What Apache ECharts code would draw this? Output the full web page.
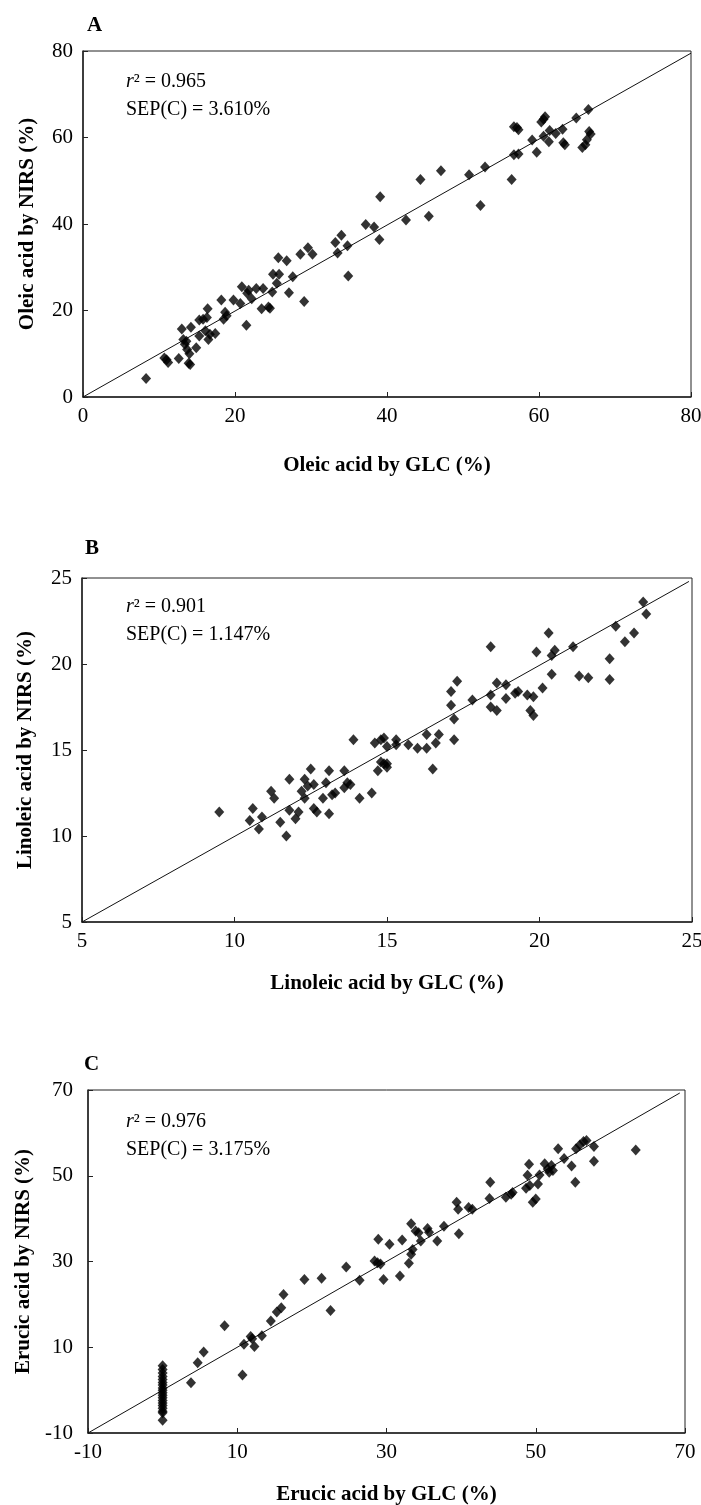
<!DOCTYPE html>
<html>
<head>
<meta charset="utf-8">
<script src="https://cdn.jsdelivr.net/npm/echarts@6/dist/echarts.min.js"></script>
<style>
html,body{margin:0;padding:0;background:#fff;}
#chart{width:701px;height:1505px;}
</style>
</head>
<body>
<div id="chart"></div>
<script>
// ---------- DATA ----------
// Panel A: oleic acid [GLC %, NIRS %]
const oleicPoints = [
 [8.3,4.3],[10.7,9.0],[11.0,8.6],[11.2,8.0],[12.6,8.9],[13.0,15.7],[13.2,13.3],[13.6,12.9],[13.4,12.2],[13.7,11.0],
 [14.0,10.0],[14.1,7.5],[13.9,7.8],[14.2,16.1],[14.9,11.4],[15.3,14.1],[15.3,17.8],[15.8,18.0],[16.1,15.3],[16.4,20.4],
 [16.3,18.4],[16.5,13.3],[16.7,14.5],[17.4,14.7],[18.2,22.4],[18.5,18.0],[18.7,19.6],[18.9,18.8],[19.8,22.4],[20.7,21.6],
 [20.9,25.5],[21.5,16.6],[21.6,24.0],[21.8,24.7],[22.2,22.7],[22.8,25.1],[23.5,20.4],[23.7,25.1],[24.4,20.8],[24.6,20.5],
 [24.9,24.3],[25.0,28.4],[25.5,26.3],[25.8,28.4],[25.7,32.2],[26.8,31.5],[27.1,24.1],[27.6,27.8],[29.1,22.1],[34.9,28.0],
 [28.6,33.0],[29.6,34.5],[30.2,33.0],[33.2,35.7],[33.5,33.3],[34.0,37.4],[34.8,35.0],[37.2,39.9],[38.3,39.3],[39.0,36.4],
 [39.1,46.3],[42.5,40.9],[44.4,50.3],[45.5,41.8],[47.1,52.3],[50.8,51.4],[52.3,44.3],[52.9,53.2],[56.4,50.3],[56.7,62.5],
 [57.3,61.8],[57.1,62.3],[56.7,56.0],[57.3,56.2],[59.1,59.4],[59.7,56.6],[60.3,63.6],[60.6,64.2],[60.8,64.8],[60.6,60.3],
 [61.3,59.0],[61.4,61.6],[62.2,60.9],[63.1,61.9],[63.2,58.8],[63.4,58.3],[64.9,64.5],[65.7,57.7],[66.1,58.3],[66.3,59.5],
 [66.5,66.5],[66.6,61.4],[66.8,60.8]
];
const oleicFitLine = [[0,0],[80,79.5]];
const oleicTicks = [0,20,40,60,80];

// Panel B: linoleic acid [GLC %, NIRS %]
const linoleicPoints = [
 [9.5,11.4],[10.5,10.9],[10.6,11.6],[10.8,10.4],[10.9,11.1],[11.2,12.6],[11.3,12.2],[11.5,10.8],[11.7,10.0],[11.8,13.3],
 [11.8,11.5],[12.0,11.0],[12.1,11.4],[12.3,13.3],[12.2,12.6],[12.3,12.2],[12.4,12.9],[12.5,13.9],[12.6,13.0],[12.6,11.6],
 [12.7,11.4],[12.9,12.2],[13.0,13.1],[13.1,13.8],[13.1,11.3],[13.2,12.4],[13.3,12.5],[13.6,13.8],[13.6,12.8],[13.7,13.1],
 [13.8,13.0],[13.9,15.6],[14.1,12.2],[14.5,12.5],[14.6,15.4],[14.7,13.8],[14.8,14.3],[14.9,14.2],[14.8,15.6],[14.9,15.7],
 [15.0,14.0],[15.0,14.2],[15.0,15.2],[15.3,15.6],[15.3,15.3],[15.7,15.3],[16.0,15.1],[16.3,15.9],[16.3,15.1],[16.5,13.9],
 [16.6,15.4],[16.7,15.9],[17.2,15.6],[17.2,16.8],[17.1,17.6],[17.1,18.4],[17.3,19.0],[17.8,17.9],[18.4,21.0],[18.4,18.2],
 [18.4,17.5],[18.6,17.3],[18.6,18.9],[18.9,18.0],[18.9,18.8],[19.2,18.3],[19.3,18.4],[19.6,18.2],[19.8,18.1],[19.7,17.3],
 [19.8,17.0],[19.9,20.7],[20.1,18.6],[20.3,21.8],[20.4,20.5],[20.5,20.8],[20.4,19.4],[21.1,21.0],[21.3,19.3],[21.6,19.2],
 [22.3,20.3],[22.3,19.1],[22.5,22.2],[22.8,21.3],[23.1,21.8],[23.4,23.6],[23.5,22.9]
];
const linoleicFitLine = [[5,5],[24.9,24.8]];
const linoleicTicks = [5,10,15,20,25];

// Panel C: erucic acid [GLC %, NIRS %]
const erucicZeroGLC = [5.7,4.8,4.0,3.2,2.5,1.8,1.2,0.5,0.0,-0.6,-1.2,-1.8,-2.4,-3.0,-3.6,-4.2,-4.9,-5.3,-7.0];
const erucicPoints = [
 [3.8,1.7],[4.7,6.4],[5.5,8.9],[8.3,15.0],[10.7,3.5],[10.9,10.7],[11.8,12.5],[12.0,12.0],[12.3,10.2],[13.3,12.7],
 [14.5,16.1],[15.3,18.2],[15.9,19.2],[16.2,22.3],[19.0,25.8],[21.3,26.1],[22.5,18.6],[24.6,28.7],[26.4,25.6],[28.4,30.1],
 [28.8,29.7],[29.2,29.4],[29.6,25.8],[28.9,35.2],[30.4,34.0],[31.8,26.6],[32.1,35.0],[33.0,29.6],[33.3,31.7],[33.5,32.8],
 [33.3,38.8],[33.9,37.1],[34.3,36.7],[34.6,34.8],[35.5,37.7],[35.7,36.8],[36.8,34.8],[37.7,38.2],[39.7,36.5],[39.4,43.8],
 [39.6,42.2],[41.0,42.6],[41.5,42.2],[43.8,44.7],[43.9,48.5],[46.0,45.0],[46.7,45.7],[46.9,46.1],[48.7,47.1],[49.2,47.7],
 [48.9,50.1],[49.1,52.7],[49.6,43.8],[50.0,44.6],[50.3,48.1],[50.5,50.2],[51.2,52.8],[51.6,51.6],[52.1,52.4],[52.3,51.2],
 [51.8,50.8],[53.0,56.3],[53.8,54.0],[54.8,52.3],[55.3,48.5],[55.4,56.3],[55.9,57.2],[56.4,58.0],[56.8,58.2],[57.8,56.8],
 [57.8,53.4],[63.4,56.0]
];
const erucicFitLine = [[-10,-10],[69.3,69.3]];
const erucicTicks = [-10,10,30,50,70];

const panelLabels = ['A','B','C'];
const xTitles = ['Oleic acid by GLC (%)','Linoleic acid by GLC (%)','Erucic acid by GLC (%)'];
const yTitles = ['Oleic acid by NIRS (%)','Linoleic acid by NIRS (%)','Erucic acid by NIRS (%)'];
const r2Values = ['0.965','0.901','0.976'];
const sepValues = ['3.610%','1.147%','3.175%'];

// ---------- CHART ----------
const FONT = '"Liberation Serif","Times New Roman",serif';
const chart = echarts.init(document.getElementById('chart'), null, {renderer:'canvas'});

const grids = [
  {left:83, top:51, width:608, height:346},
  {left:82, top:578, width:610, height:344},
  {left:88, top:1090, width:597, height:343}
];
const ranges = [[0,80,20],[5,25,5],[-10,70,10]];
const tickSets = [oleicTicks, linoleicTicks, erucicTicks];
const xNameGap = [58, 51, 51];
const yNameGap = [45, 46, 52];
const yLabelMargin = [10, 10, 15];

function axisCommon(i, isX){
  const r = ranges[i];
  return {
    type:'value', gridIndex:i, min:r[0], max:r[1], interval:r[2],
    axisLine:{show:true, onZero:false, lineStyle:{color:'#222', width:1.5}},
    axisTick:{show:true, inside:true, length:5, lineStyle:{color:'#222', width:1}, customValues:tickSets[i]},
    axisLabel:{show:true, color:'#000', fontFamily:FONT, fontSize:21, margin: isX ? 9 : yLabelMargin[i], customValues:tickSets[i]},
    splitLine:{show:false},
    name: isX ? xTitles[i] : yTitles[i],
    nameLocation:'middle',
    nameGap: isX ? xNameGap[i] : yNameGap[i],
    nameTextStyle:{color:'#000', fontFamily:FONT, fontSize:21, fontWeight:'bold'}
  };
}

const xAxes = [0,1,2].map(i => axisCommon(i, true));
const yAxes = [0,1,2].map(i => axisCommon(i, false));

const pointSets = [oleicPoints, linoleicPoints, erucicZeroGLC.map(v => [0, v]).concat(erucicPoints)];
const fitLines = [oleicFitLine, linoleicFitLine, erucicFitLine];

const series = [];
for (let i = 0; i < 3; i++) {
  series.push({
    type:'line', xAxisIndex:i, yAxisIndex:i, data:fitLines[i],
    symbol:'none', silent:true, z:2,
    lineStyle:{color:'#111', width:1}
  });
  series.push({
    type:'scatter', xAxisIndex:i, yAxisIndex:i, data:pointSets[i],
    symbol:'diamond', symbolSize:[10,11], z:3, silent:true,
    itemStyle:{color:'#000'}
  });
}

const labelPos = [[87,27],[85,550],[84,1066]];
const annotTop = [[82,110],[607,635],[1122,1150]];
const graphics = [];
for (let i = 0; i < 3; i++) {
  graphics.push({
    type:'text', left:labelPos[i][0], top:labelPos[i][1]-12,
    style:{text:panelLabels[i], font:'bold 21px ' + FONT, fill:'#000'}
  });
  graphics.push({
    type:'text', x:126, y:annotTop[i][0],
    style:{
      text:'{it|r}{n|² = ' + r2Values[i] + '}',
      verticalAlign:'middle',
      rich:{
        it:{fontFamily:FONT, fontSize:20, fontStyle:'italic', fill:'#000'},
        n:{fontFamily:FONT, fontSize:20, fill:'#000'}
      }
    }
  });
  graphics.push({
    type:'text', x:126, y:annotTop[i][1],
    style:{text:'SEP(C) = ' + sepValues[i], font:'20px ' + FONT, fill:'#000', verticalAlign:'middle'}
  });
}

chart.setOption({
  animation:false,
  backgroundColor:'#fff',
  grid: grids.map(g => Object.assign({show:true, borderColor:'#222', borderWidth:1, containLabel:false, outerBoundsMode:'none'}, g)),
  xAxis: xAxes,
  yAxis: yAxes,
  series: series,
  graphic: graphics
});
</script>
</body>
</html>
